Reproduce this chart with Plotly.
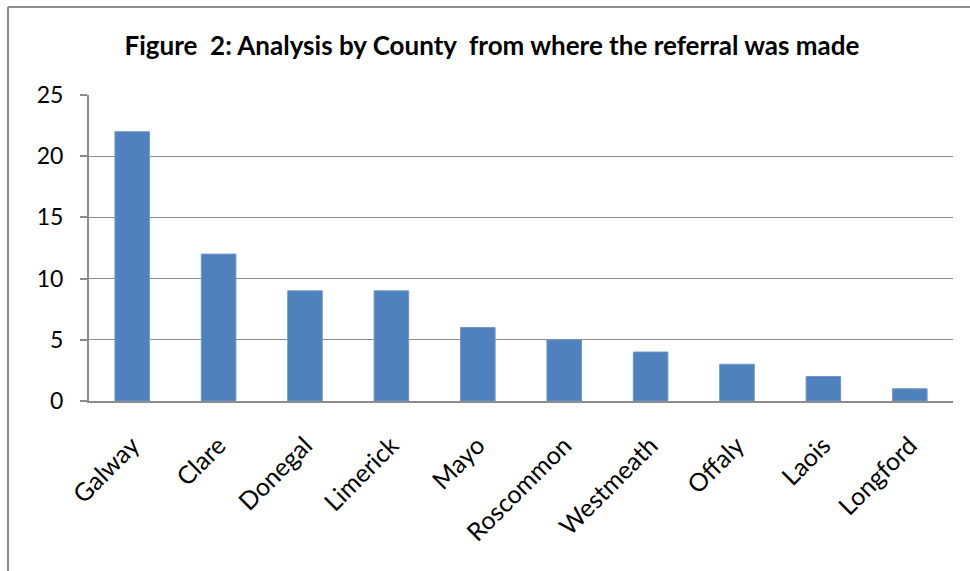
import plotly.graph_objects as go

counties = ["Galway", "Clare", "Donegal", "Limerick", "Mayo",
            "Roscommon", "Westmeath", "Offaly", "Laois", "Longford"]
referrals = [22, 12, 9, 9, 6, 5, 4, 3, 2, 1]
y_ticks = [0, 5, 10, 15, 20, 25]

title_text = "Figure\u00a0\u00a02: Analysis by County\u00a0\u00a0from where the referral was made"

FONT = "Lato, Carlito, Calibri, sans-serif"
BAR_COLOR = "#4F81BD"
GRID = "#8c8c8c"

fig = go.Figure(
    go.Bar(
        x=counties,
        y=referrals,
        marker=dict(color=BAR_COLOR, line=dict(color="#6f97c8", width=1)),
    )
)

fig.update_layout(
    width=970,
    height=571,
    margin=dict(l=89, r=17, t=95, b=170),
    paper_bgcolor="white",
    plot_bgcolor="white",
    bargap=0.6,
    showlegend=False,
    font=dict(family=FONT, color="black"),
    title=dict(
        text="<b>" + title_text + "</b>",
        x=492 / 970,
        xanchor="center",
        y=1 - 46 / 571,
        yanchor="middle",
        font=dict(family=FONT, size=26, color="black"),
    ),
)

fig.update_xaxes(
    showgrid=False,
    showline=True,
    linecolor=GRID,
    linewidth=2,
    tickangle=-45,
    tickfont=dict(size=25, family=FONT),
    ticks="",
    ticklabelstandoff=18,
)

fig.update_yaxes(
    range=[0, 25],
    tickvals=y_ticks,
    showgrid=True,
    gridcolor=GRID,
    gridwidth=1,
    showline=True,
    linecolor=GRID,
    linewidth=2,
    ticks="outside",
    ticklen=7,
    tickcolor=GRID,
    tickwidth=2,
    tickfont=dict(size=23, family=FONT),
    ticklabelstandoff=12,
    zeroline=False,
)

# Outer chart frame (left and top edges)
frame_x = -81 / 864
frame_y = 1 + 88 / 306
fig.add_shape(type="line", xref="paper", yref="paper",
              x0=frame_x, x1=frame_x, y0=frame_y, y1=-1,
              line=dict(color="#8c8c8c", width=2))
fig.add_shape(type="line", xref="paper", yref="paper",
              x0=frame_x, x1=1.2, y0=frame_y, y1=frame_y,
              line=dict(color="#8c8c8c", width=2))

fig.write_html("out.html")
